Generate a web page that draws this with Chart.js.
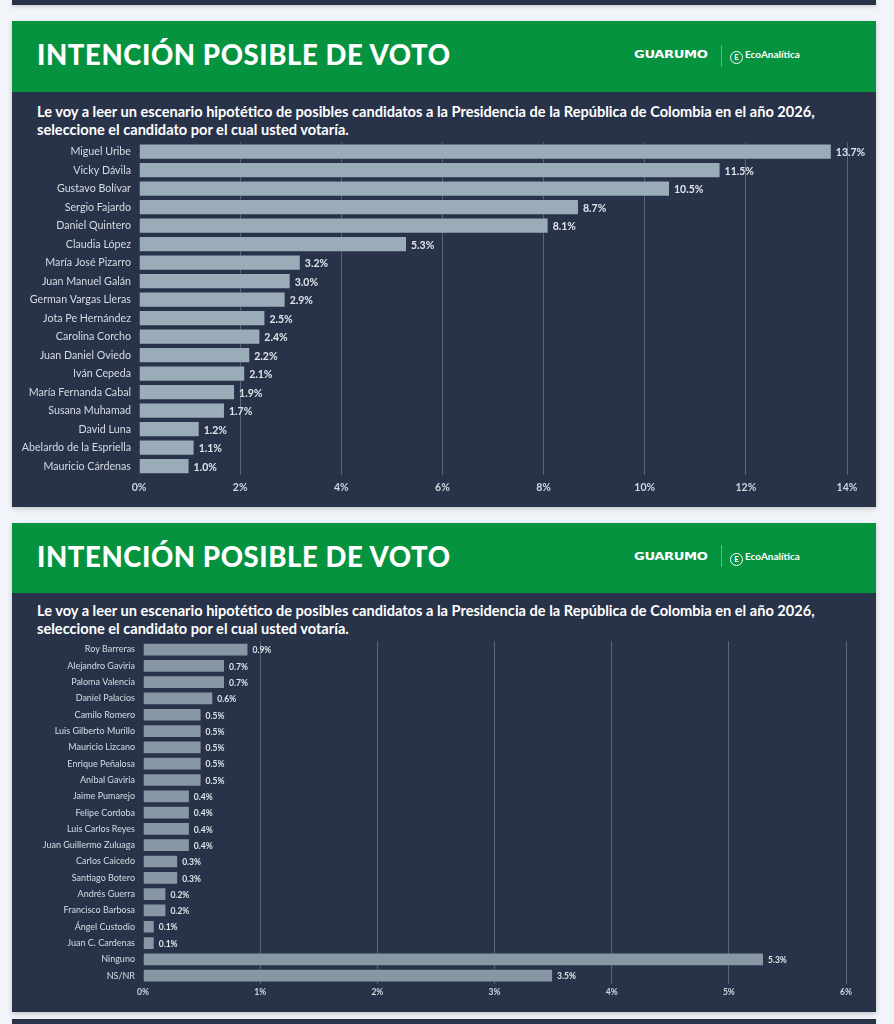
<!DOCTYPE html>
<html>
<head>
<meta charset="utf-8">
<script src="https://cdn.jsdelivr.net/npm/chart.js@4.4.0/dist/chart.umd.min.js"></script>
<style>
  body { margin:0; background:#f1f4f8; width:894px; height:1024px; overflow:hidden; font-family: Lato, "Open Sans", sans-serif; }
  .strip { position:absolute; left:12px; width:864px; background:#283349; box-shadow:0 2px 4px rgba(0,0,0,0.15); }
  .panel { position:absolute; left:12px; width:864px; background:#283349; box-shadow:0 2px 5px rgba(0,0,0,0.18); }
  .head { position:absolute; left:0; top:0; width:864px; background:#06933f; }
  .title { position:absolute; left:25px; color:#fff; font-weight:900; font-size:27.5px; letter-spacing:0.6px; }
  .logo1 { position:absolute; left:622px; color:#fff; font-family:"DejaVu Sans", sans-serif; font-weight:bold; font-size:10.5px; letter-spacing:-0.3px; transform:scaleX(1.25); transform-origin:left; }
  .sep { position:absolute; left:709px; width:1px; height:22px; background:rgba(255,255,255,0.35); }
  .logo2 { position:absolute; left:718px; color:#fff; font-size:10px; font-weight:bold; }
  .logo2 span.c { display:inline-block; width:11px; height:11px; border:1px solid #fff; border-radius:50%; font-size:8px; line-height:11px; text-align:center; margin-right:2px; vertical-align:-2px; }
  .sub { position:absolute; left:25px; color:#fff; font-weight:bold; font-size:14.6px; line-height:18px; }
  canvas { position:absolute; }
</style>
</head>
<body>
<div class="strip" style="top:0;height:5px;"></div>

<div class="panel" style="top:21px;height:486px;">
  <div class="head" style="height:71px;">
    <div class="title" style="top:17px;">INTENCIÓN POSIBLE DE VOTO</div>
    <div class="logo1" style="top:27px;">GUARUMO</div>
    <div class="sep" style="top:24px;"></div>
    <div class="logo2" style="top:27px;"><span class="c">E</span>EcoAnalítica</div>
  </div>
  <div class="sub" style="top:82px;">Le voy a leer un escenario hipotético de posibles candidatos a la Presidencia de la República de Colombia en el año 2026,<br>seleccione el candidato por el cual usted votaría.</div>
</div>

<div class="panel" style="top:523px;height:489px;">
  <div class="head" style="height:70px;">
    <div class="title" style="top:17px;">INTENCIÓN POSIBLE DE VOTO</div>
    <div class="logo1" style="top:27px;">GUARUMO</div>
    <div class="sep" style="top:22px;"></div>
    <div class="logo2" style="top:27px;"><span class="c">E</span>EcoAnalítica</div>
  </div>
  <div class="sub" style="top:79px;">Le voy a leer un escenario hipotético de posibles candidatos a la Presidencia de la República de Colombia en el año 2026,<br>seleccione el candidato por el cual usted votaría.</div>
</div>

<div class="strip" style="top:1019px;height:5px;"></div>

<canvas id="chart1" style="left:12px;top:128px;"></canvas>
<canvas id="chart2" style="left:12px;top:628px;"></canvas>

<script>
var candidatos1 = ['Miguel Uribe', 'Vicky Dávila', 'Gustavo Bolívar', 'Sergio Fajardo', 'Daniel Quintero', 'Claudia López', 'María José Pizarro', 'Juan Manuel Galán', 'German Vargas Lleras', 'Jota Pe Hernández', 'Carolina Corcho', 'Juan Daniel Oviedo', 'Iván Cepeda', 'María Fernanda Cabal', 'Susana Muhamad', 'David Luna', 'Abelardo de la Espriella', 'Mauricio Cárdenas'];
var votos1 = [13.7, 11.5, 10.5, 8.7, 8.1, 5.3, 3.2, 3.0, 2.9, 2.5, 2.4, 2.2, 2.1, 1.9, 1.7, 1.2, 1.1, 1.0];
var ticks1 = [0, 2, 4, 6, 8, 10, 12, 14];

var candidatos2 = ['Roy Barreras', 'Alejandro Gaviria', 'Paloma Valencia', 'Daniel Palacios', 'Camilo Romero', 'Luis Gilberto Murillo', 'Mauricio Lizcano', 'Enrique Peñalosa', 'Aníbal Gaviria', 'Jaime Pumarejo', 'Felipe Cordoba', 'Luis Carlos Reyes', 'Juan Guillermo Zuluaga', 'Carlos Caicedo', 'Santiago Botero', 'Andrés Guerra', 'Francisco Barbosa', 'Ángel Custodio', 'Juan C. Cardenas', 'Ninguno', 'NS/NR'];
var votos2 = [0.9, 0.7, 0.7, 0.6, 0.5, 0.5, 0.5, 0.5, 0.5, 0.4, 0.4, 0.4, 0.4, 0.3, 0.3, 0.2, 0.2, 0.1, 0.1, 5.3, 3.5];
var ticks2 = [0, 1, 2, 3, 4, 5, 6];

// etiquetas de valor a la derecha de cada barra
var etiquetas = {
  id: 'etiquetas',
  afterDatasetsDraw: function(chart, args, opts) {
    var ctx = chart.ctx;
    var meta = chart.getDatasetMeta(0);
    ctx.save();
    ctx.font = 'bold ' + opts.size + 'px Lato';
    ctx.fillStyle = '#dfe5ea';
    ctx.textBaseline = 'middle';
    meta.data.forEach(function(bar, i) {
      ctx.fillText(chart.data.datasets[0].data[i].toFixed(1) + '%', bar.x + 4, bar.y + 1);
    });
    ctx.restore();
  }
};

function drawGraph(canvasId, labels, data, tickList, max, w, h, yWidth, padRight, color, fontSize, labelSize, barPct, tickPad) {
  var cv = document.getElementById(canvasId);
  cv.width = w; cv.height = h;
  cv.style.width = w + 'px'; cv.style.height = h + 'px';
  new Chart(cv, {
    type: 'bar',
    data: {
      labels: labels,
      datasets: [{
        data: data,
        backgroundColor: color,
        borderColor: 'rgba(40,51,73,0.5)',
        borderWidth: 1,
        categoryPercentage: 1,
        barPercentage: barPct
      }]
    },
    plugins: [etiquetas],
    options: {
      indexAxis: 'y',
      responsive: false,
      animation: false,
      devicePixelRatio: 1,
      layout: { padding: { top: 4, right: padRight, bottom: 0, left: 0 } },
      plugins: {
        legend: { display: false },
        tooltip: { enabled: false },
        etiquetas: { size: fontSize }
      },
      scales: {
        x: {
          min: 0, max: max,
          afterBuildTicks: function(scale) { scale.ticks = tickList.map(function(v) { return { value: v }; }); },
          grid: { color: function(c) { return c.tick.value === 0 ? 'rgba(0,0,0,0)' : 'rgba(190,200,215,0.35)'; }, drawTicks: false },
          border: { display: false },
          ticks: { color: '#cfd6de', font: { family: 'Lato', size: fontSize, weight: 'bold' }, padding: tickPad, callback: function(v) { return v + '%'; } }
        },
        y: {
          afterFit: function(scale) { scale.width = yWidth; },
          grid: { display: false, drawTicks: false },
          border: { display: false },
          ticks: { color: '#d6dce3', font: { family: 'Lato', size: labelSize }, padding: 8, autoSkip: false }
        }
      }
    }
  });
}

drawGraph('chart1', candidatos1, votos1, ticks1, 14, 864, 372, 127, 29, '#9aacb8', 10.5, 10.7, 0.87, 6);
drawGraph('chart2', candidatos2, votos2, ticks2, 6, 864, 372, 131, 30, '#8797a3', 8.5, 9, 0.84, 3);
</script>
</body>
</html>
